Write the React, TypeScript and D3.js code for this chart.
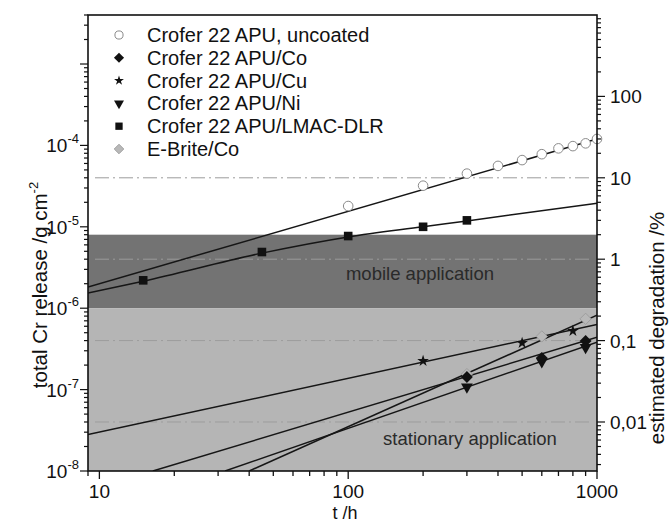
import React from 'react';
import * as d3 from 'd3';

// ---------- data ----------
const uncoatedT = [100, 200, 300, 400, 500, 600, 700, 800, 900, 1000];
const uncoatedV = [1.8e-5, 3.2e-5, 4.5e-5, 5.6e-5, 6.6e-5, 7.8e-5, 9.2e-5, 9.8e-5, 1.06e-4, 1.2e-4];
const uncoatedFitT = [9, 1000];
const uncoatedFitV = [1.82e-6, 1.2e-4];

const coT = [300, 600, 900];
const coV = [1.43e-7, 2.45e-7, 3.95e-7];
const coFitT = [16.4, 1000];
const coFitV = [1e-8, 4.4e-7];

const cuT = [200, 500, 800];
const cuV = [2.25e-7, 3.74e-7, 5.25e-7];
const cuFitT = [9, 1000];
const cuFitV = [2.8e-8, 6.3e-7];

const niT = [300, 600, 900];
const niV = [1.08e-7, 2.2e-7, 3.3e-7];
const niFitT = [32, 1000];
const niFitV = [1e-8, 3.83e-7];

const lmacT = [15, 45, 100, 200, 300];
const lmacV = [2.2e-6, 4.9e-6, 7.7e-6, 1.0e-5, 1.2e-5];
const lmacFitT = [9, 15, 45, 100, 200, 300, 1000];
const lmacFitV = [1.54e-6, 2.15e-6, 4.75e-6, 7.5e-6, 1.0e-5, 1.18e-5, 1.95e-5];

const ebriteT = [300, 600, 900];
const ebriteV = [1.55e-7, 4.5e-7, 7.4e-7];
const ebriteFitT = [40, 1000];
const ebriteFitV = [1e-8, 8.2e-7];

const legendLabels = [
  'Crofer 22 APU, uncoated',
  'Crofer 22 APU/Co',
  'Crofer 22 APU/Cu',
  'Crofer 22 APU/Ni',
  'Crofer 22 APU/LMAC-DLR',
  'E-Brite/Co',
];

const xTickLabels = [10, 100, 1000];
const leftTickExp = [-8, -7, -6, -5, -4];
const rightTickValues = [0.01, 0.1, 1, 10, 100];
const rightTickLabels = ['0,01', '0,1', '1', '10', '100'];
const gridPercent = [0.01, 0.1, 1, 10];
const mobileBand = [1e-6, 8e-6];
const stationaryBand = [1e-8, 1e-6];
const gPerPercent = 4e-6; // g cm^-2 corresponding to 1 % degradation

// ---------- layout ----------
const W = 671, H = 522;
const L = 88, R = 597, T = 15, B = 471;
const FONT = '"Liberation Sans", Arial, Helvetica, sans-serif';

const x = d3.scaleLog().domain([9, 1000]).range([L, R]);
const y = d3.scaleLog().domain([1e-8, 4e-3]).range([B, T]);
const y2 = d3.scaleLog().domain([1e-8 / gPerPercent, 4e-3 / gPerPercent]).range([B, T]);

function minorTicks(lo: number, hi: number) {
  const out: number[] = [];
  for (let e = Math.floor(Math.log10(lo)); e <= Math.ceil(Math.log10(hi)); e++) {
    for (let m = 1; m <= 9; m++) {
      const v = m * Math.pow(10, e);
      if (v >= lo * 0.999 && v <= hi * 1.001) out.push(v);
    }
  }
  return out;
}

const line = d3.line<[number, number]>().x(d => x(d[0])).y(d => y(d[1]));
const curve = d3.line<[number, number]>().x(d => x(d[0])).y(d => y(d[1])).curve(d3.curveMonotoneX);

const zip = (a: number[], b: number[]) => a.map((v, i) => [v, b[i]] as [number, number]);

type Kind = 'circle' | 'diamond' | 'star' | 'tri' | 'square' | 'gdiamond';

function Marker({ kind, cx, cy, s = 1 }: { kind: Kind; cx: number; cy: number; s?: number }) {
  switch (kind) {
    case 'circle':
      return <circle cx={cx} cy={cy} r={4.8 * s} fill="#fff" stroke="#8a8a8a" strokeWidth={1} />;
    case 'diamond':
      return <rect x={cx - 4.2 * s} y={cy - 4.2 * s} width={8.4 * s} height={8.4 * s} fill="#111"
        transform={`rotate(45 ${cx} ${cy})`} />;
    case 'gdiamond':
      return <rect x={cx - 4 * s} y={cy - 4 * s} width={8 * s} height={8 * s} fill="#b8b8b8" stroke="#9a9a9a" strokeWidth={0.8}
        transform={`rotate(45 ${cx} ${cy})`} />;
    case 'star':
      return <path d={d3.symbol().type(d3.symbolStar).size(42 * s * s)() || ''} transform={`translate(${cx},${cy})`} fill="#111" />;
    case 'tri':
      return <path d={d3.symbol().type(d3.symbolTriangle).size(60 * s * s)() || ''} transform={`translate(${cx},${cy}) rotate(180)`} fill="#111" />;
    case 'square':
      return <rect x={cx - 4.3 * s} y={cy - 4.3 * s} width={8.6 * s} height={8.6 * s} fill="#111" />;
  }
  return null;
}

export default function App() {
  const yMinor = minorTicks(1e-8, 4e-3);
  const y2Minor = minorTicks(0.0025, 999);
  const xMinor = minorTicks(9, 1000);

  const series: { kind: Kind; t: number[]; v: number[] }[] = [
    { kind: 'gdiamond', t: ebriteT, v: ebriteV },
    { kind: 'circle', t: uncoatedT, v: uncoatedV },
    { kind: 'square', t: lmacT, v: lmacV },
    { kind: 'star', t: cuT, v: cuV },
    { kind: 'tri', t: niT, v: niV },
    { kind: 'diamond', t: coT, v: coV },
  ];
  const legendKinds: Kind[] = ['circle', 'diamond', 'star', 'tri', 'square', 'gdiamond'];

  return (
    <svg width={W} height={H} style={{ position: 'absolute', left: 0, top: 0, background: '#fff' }}
      fontFamily={FONT}>
      <defs>
        <clipPath id="plot"><rect x={L} y={T} width={R - L} height={B - T} /></clipPath>
      </defs>
      {/* bands */}
      <rect x={L} y={y(mobileBand[1])} width={R - L} height={y(mobileBand[0]) - y(mobileBand[1])} fill="#737373" />
      <rect x={L} y={y(stationaryBand[1])} width={R - L} height={y(stationaryBand[0]) - y(stationaryBand[1])} fill="#b5b5b5" />
      {/* dashed reference lines */}
      {gridPercent.map(p => (
        <line key={p} x1={L + 7} x2={R - 4} y1={y2(p)} y2={y2(p)} stroke="#9c9c9c" strokeWidth={1}
          strokeDasharray="14 4 2 4" />
      ))}
      {/* band texts */}
      <text x={420} y={280} textAnchor="middle" fontSize={18.5} fill="#2a2a2a">mobile application</text>
      <text x={470} y={445} textAnchor="middle" fontSize={18.5} fill="#2a2a2a">stationary application</text>
      {/* fits */}
      <g clipPath="url(#plot)" fill="none" stroke="#161616" strokeWidth={1.5}>
        <path d={line(zip(uncoatedFitT, uncoatedFitV)) || ''} />
        <path d={curve(zip(lmacFitT, lmacFitV)) || ''} />
        <path d={line(zip(cuFitT, cuFitV)) || ''} />
        <path d={line(zip(coFitT, coFitV)) || ''} />
        <path d={line(zip(niFitT, niFitV)) || ''} />
        <path d={line(zip(ebriteFitT, ebriteFitV)) || ''} />
      </g>
      {/* markers */}
      {series.map((s, i) => (
        <g key={i}>
          {s.t.map((t, j) => <Marker key={j} kind={s.kind} cx={x(t)} cy={y(s.v[j])} />)}
        </g>
      ))}
      {/* frame */}
      <rect x={L} y={T} width={R - L} height={B - T} fill="none" stroke="#111" strokeWidth={1.6} />
      {/* x ticks */}
      {xMinor.map(t => {
        const major = xTickLabels.includes(t);
        return <line key={t} x1={x(t)} x2={x(t)} y1={B} y2={B + (major ? 8 : 5)} stroke="#111" strokeWidth={1.3} />;
      })}
      {xTickLabels.map(t => (
        <text key={t} x={x(t)} y={498} textAnchor="middle" fontSize={19} fill="#111">{t}</text>
      ))}
      <text x={345} y={519} textAnchor="middle" fontSize={18} fill="#111">t /h</text>
      {/* left ticks */}
      {yMinor.map(v => {
        const major = Math.abs(Math.log10(v) - Math.round(Math.log10(v))) < 1e-9;
        return <line key={v} x1={L} x2={L - (major ? 8 : 4)} y1={y(v)} y2={y(v)} stroke="#111" strokeWidth={1.2} />;
      })}
      {leftTickExp.map(e => (
        <text key={e} x={79} y={y(Math.pow(10, e)) + 7} textAnchor="end" fontSize={19} fill="#111">
          10<tspan dy={-9} fontSize={13}>{e}</tspan>
        </text>
      ))}
      {/* right ticks */}
      {y2Minor.map(v => {
        const major = Math.abs(Math.log10(v) - Math.round(Math.log10(v))) < 1e-9;
        return <line key={v} x1={R} x2={R + (major ? 8 : 4)} y1={y2(v)} y2={y2(v)} stroke="#111" strokeWidth={1.2} />;
      })}
      {rightTickValues.map((v, i) => (
        <text key={v} x={610} y={y2(v) + 7} textAnchor="start" fontSize={19} fill="#111">{rightTickLabels[i]}</text>
      ))}
      {/* axis titles */}
      <text transform="translate(47,285) rotate(-90)" textAnchor="middle" fontSize={20.5} fill="#111">
        total Cr release /g cm<tspan dy={-9} fontSize={13}>-2</tspan>
      </text>
      <text transform="translate(664,328) rotate(-90)" textAnchor="middle" fontSize={20.5} fill="#111">
        estimated degradation /%
      </text>
      {/* legend */}
      {legendLabels.map((lab, i) => {
        const by = 42 + i * 22.8;
        return (
          <g key={lab}>
            <Marker kind={legendKinds[i]} cx={119} cy={by - 7} s={0.85} />
            <text x={147} y={by} fontSize={20} fill="#111">{lab}</text>
          </g>
        );
      })}
    </svg>
  );
}
